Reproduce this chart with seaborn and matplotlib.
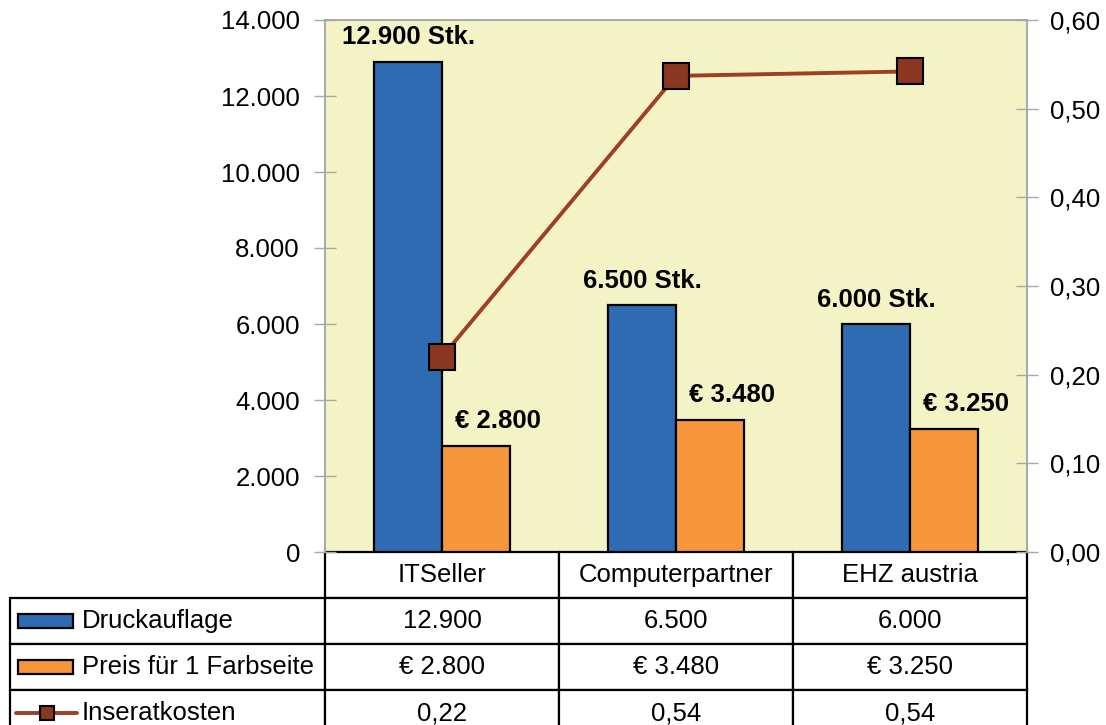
import numpy as np
import pandas as pd
import matplotlib
matplotlib.use("Agg")
import matplotlib.pyplot as plt
from matplotlib.table import Table
from matplotlib.patches import Rectangle
from matplotlib.lines import Line2D
from matplotlib.ticker import FuncFormatter, FixedLocator
import seaborn as sns

# ---------------- data ----------------
categories = ["ITSeller", "Computerpartner", "EHZ austria"]
druckauflage = [12900, 6500, 6000]
preis = [2800, 3480, 3250]
inseratkosten = [0.22, 0.537, 0.542]
series_names = ["Druckauflage", "Preis für 1 Farbseite", "Inseratkosten"]
left_ticks = [0, 2000, 4000, 6000, 8000, 10000, 12000, 14000]
right_ticks = [0.0, 0.1, 0.2, 0.3, 0.4, 0.5, 0.6]

# ---------------- style ----------------
BLUE = "#2E6BB3"
ORANGE = "#F7953B"
BG = "#F3F3C5"
LINE = "#9E3F26"
MARK = "#8B3621"
GRAY = "#A8A8A8"
FS = 18.5

sns.set_style("white")
plt.rcParams["font.family"] = ["Liberation Sans", "DejaVu Sans"]
plt.rcParams["text.color"] = "black"
plt.rcParams["axes.labelcolor"] = "black"
plt.rcParams["xtick.labelcolor"] = "black"
plt.rcParams["ytick.labelcolor"] = "black"


def de_int(v):
    return f"{v:,.0f}".replace(",", ".")


def de_dec(v):
    return f"{v:.2f}".replace(".", ",")


W, H = 1106, 725
fig = plt.figure(figsize=(W / 100, H / 100), dpi=100)
L, R, T, B = 325, 1027, 20, 552
ax = fig.add_axes([L / W, (H - B) / H, (R - L) / W, (B - T) / H])
ax.set_facecolor(BG)

df = pd.DataFrame({
    "Anbieter": categories * 2,
    "Serie": [series_names[0]] * 3 + [series_names[1]] * 3,
    "Wert": druckauflage + preis,
})
sns.barplot(data=df, x="Anbieter", y="Wert", hue="Serie",
            palette=[BLUE, ORANGE], saturation=1, width=0.58,
            edgecolor="black", linewidth=1.6, legend=False, ax=ax, zorder=2)

ax.set_ylim(0, 14000)
ax.set_xlim(-0.5, 2.5)
ax.set_xlabel("")
ax.set_ylabel("")
ax.set_xticks([])
ax.yaxis.set_major_locator(FixedLocator(left_ticks))
ax.yaxis.set_major_formatter(FuncFormatter(lambda v, _: de_int(v)))
ax.tick_params(axis="y", direction="inout", length=16, width=1, color=GRAY,
               labelcolor="black", labelsize=FS, pad=10, left=True)

# data labels on bars
for ci, cont in enumerate(ax.containers):
    for bar in cont:
        xc = bar.get_x() + bar.get_width() / 2
        h = bar.get_height()
        if ci == 0:
            txt = de_int(h) + " Stk."
            dx = 0
        else:
            txt = "€ " + de_int(h)
            dx = 16
        ax.annotate(txt, xy=(xc, h), xytext=(dx, 12.5), textcoords="offset points",
                    ha="center", va="baseline", fontsize=FS, fontweight="bold",
                    color="black", zorder=5)

# line on secondary axis
ax2 = ax.twinx()
xpos = np.arange(len(categories))
sns.lineplot(x=xpos, y=inseratkosten, ax=ax2, color=LINE, lw=2.8,
             marker="s", markersize=18.5, markerfacecolor=MARK,
             markeredgecolor="black", markeredgewidth=1.5)
ax2.set_ylim(0, 0.6)
ax2.set_xlim(-0.5, 2.5)
ax2.yaxis.set_major_locator(FixedLocator(right_ticks))
ax2.yaxis.set_major_formatter(FuncFormatter(lambda v, _: de_dec(v)))
ax2.tick_params(axis="y", direction="inout", length=16, width=1, color=GRAY,
                labelcolor="black", labelsize=FS, pad=8.5, right=True)
ax2.set_ylabel("")

for a in (ax, ax2):
    for s in ("left", "top", "right"):
        a.spines[s].set_visible(True)
        a.spines[s].set_color(GRAY)
        a.spines[s].set_linewidth(1.2)
    a.spines["bottom"].set_visible(False)

# ---------------- data table ----------------
TL, TB_ = 10, 736  # table left px, bottom px
row_h = 46
lab_w = L - TL
col_w = (R - L) / 3
tab_w = lab_w + 3 * col_w
tab_h = 4 * row_h


def xa(px):
    return (px - L) / (R - L)


def ya(py):
    return (B - py) / (B - T)


tbl = Table(ax, bbox=[xa(TL), ya(TB_), tab_w / (R - L), tab_h / (B - T)])
tbl.auto_set_font_size(False)
for j, c in enumerate(categories):
    tbl.add_cell(0, j + 1, width=col_w, height=row_h, text=c, loc="center")
rows = [
    [de_int(v) for v in druckauflage],
    ["€ " + de_int(v) for v in preis],
    [de_dec(v) for v in inseratkosten],
]
for i, vals in enumerate(rows):
    cell = tbl.add_cell(i + 1, 0, width=lab_w, height=row_h,
                        text=series_names[i], loc="left")
    cell.PAD = 72 / lab_w
    for j, v in enumerate(vals):
        tbl.add_cell(i + 1, j + 1, width=col_w, height=row_h, text=v, loc="center")
for key, cell in tbl.get_celld().items():
    cell.set_edgecolor("black")
    cell.set_linewidth(1.6)
    cell.set_facecolor("white")
    cell.get_text().set_fontsize(FS)
    cell.get_text().set_color("black")
tbl.set_clip_on(False)
ax.add_table(tbl)

# legend keys inside the row-label cells
for i in range(3):
    cy = B + row_h * (i + 1) + row_h / 2
    if i < 2:
        col = [BLUE, ORANGE][i]
        rect = Rectangle((xa(18), ya(cy + 7)), (73 - 18) / (R - L), 14 / (B - T),
                         transform=ax.transAxes, facecolor=col, edgecolor="black",
                         linewidth=1.6, clip_on=False, zorder=10)
        ax.add_patch(rect)
    else:
        ln = Line2D([xa(16), xa(77)], [ya(cy), ya(cy)], transform=ax.transAxes,
                    color=LINE, lw=2.8, clip_on=False, zorder=10)
        mk = Line2D([xa(46.5)], [ya(cy)], transform=ax.transAxes, marker="s",
                    markersize=10, markerfacecolor=MARK, markeredgecolor="black",
                    markeredgewidth=1.5, clip_on=False, zorder=11, linestyle="none")
        ax.add_line(ln)
        ax.add_line(mk)

fig.savefig("out.png", dpi=100, facecolor="white")
